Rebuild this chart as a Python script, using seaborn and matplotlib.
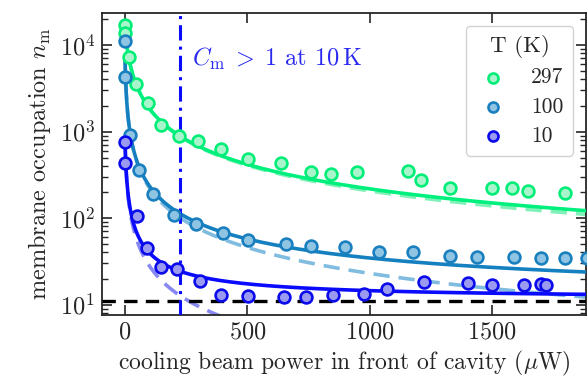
import numpy as np
import pandas as pd
import matplotlib
matplotlib.use("Agg")
import matplotlib.pyplot as plt
import seaborn as sns

# ---- measured membrane occupation vs. cooling power ----
temps = ["297", "100", "10"]

p_297 = [0, 0, 18, 45, 95, 147, 221, 297, 391, 504, 636, 759, 842, 950,
         1158, 1208, 1329, 1499, 1581, 1649, 1800]
n_297 = [17000, 13900, 7350, 3550, 2120, 1190, 900, 778, 624, 480, 437, 344,
         323, 344, 353, 273, 221, 225, 225, 206, 197]

p_100 = [0, 0, 20, 59, 116, 200, 290, 399, 504, 658, 759, 899, 1040, 1179,
         1329, 1440, 1590, 1701, 1800, 1888]
n_100 = [11000, 4310, 914, 360, 188, 109, 86, 68, 56, 50, 48, 46.6, 41, 40,
         36.5, 35.8, 35.3, 34.9, 34.9, 34.9]

p_10 = [0, 0, 50, 91, 146, 211, 307, 391, 504, 650, 740, 852, 978, 1070,
        1220, 1400, 1499, 1631, 1701, 1721]
n_10 = [764, 437, 106, 44.8, 27.4, 25.6, 18.9, 12.9, 12.7, 12.1, 12.3, 12.9,
        13.2, 15.0, 18.4, 17.6, 16.9, 16.9, 17.2, 16.9]

# ---- model: n = n0 / (1 + P/P0) (+ n_floor for the full model) ----
fit_n0 = [14820, 6970, 763]
fit_p0 = [14.1, 3.3, 3.8]
n_floor = 11.6
n_limit = 11.1          # horizontal reference level
p_cm = 225              # power where C_m > 1 at 10 K

edge_cols = ["#00ee78", "#1a7fbf", "#0a0aeb"]
face_cols = ["#a8f5cc", "#8fc4e3", "#9a9af0"]
line_cols = ["#00f07e", "#1580c0", "#0a0aff"]
dash_cols = ["#80f2b8", "#80bce0", "#8888f2"]

points = pd.concat([
    pd.DataFrame({"P": p, "n": n, "T": t})
    for p, n, t in zip([p_297, p_100, p_10], [n_297, n_100, n_10], temps)
], ignore_index=True)

xlim = (-94, 1885)
ylim = (7.64, 23700)

sns.set_style("ticks")
plt.rcParams.update({
    "font.family": "serif",
    "font.serif": ["cmr10", "DejaVu Serif"],
    "mathtext.fontset": "cm",
    "axes.formatter.use_mathtext": True,
    "font.size": 17.5,
    "axes.linewidth": 1.3,
})

fig = plt.figure(figsize=(5.88, 3.78), dpi=100)
ax = fig.add_axes([0.1735, 0.1675, 0.8235, 0.799])

p_grid = np.linspace(0, xlim[1], 2000)
curves = []
for t, n0, p0 in zip(temps, fit_n0, fit_p0):
    cool = n0 / (1 + p_grid / p0)
    curves.append(pd.DataFrame({"P": p_grid, "cool": cool,
                                "full": cool + n_floor, "T": t}))
curves = pd.concat(curves, ignore_index=True)

for i, t in enumerate(temps):
    c = curves[curves["T"] == t]
    sns.lineplot(data=c, x="P", y="cool", ax=ax, color=dash_cols[i],
                 lw=2.6, linestyle=(0, (4.5, 2.5)), zorder=2, legend=False)
for i, t in enumerate(temps):
    c = curves[curves["T"] == t]
    sns.lineplot(data=c, x="P", y="full", ax=ax, color=line_cols[i],
                 lw=2.6, zorder=3, legend=False)

ax.axhline(n_limit, color="black", lw=2.4, linestyle=(0, (4, 2.5)), zorder=4)
ax.axvline(p_cm, color="#0a0aff", lw=2.2, linestyle=(0, (5, 2, 1, 2)), zorder=4)

for i, t in enumerate(temps):
    d = points[points["T"] == t]
    sns.scatterplot(data=d, x="P", y="n", ax=ax, color=face_cols[i],
                    edgecolor=edge_cols[i], linewidth=1.9, s=72,
                    label=t, zorder=5)

ax.set_yscale("log")
ax.set_xlim(*xlim)
ax.set_ylim(*ylim)
ax.set_xticks([0, 500, 1000, 1500])
ax.tick_params(which="both", direction="in", top=True, right=True)
ax.tick_params(which="major", length=7, width=1.2, labelsize=17.5, pad=5)
ax.tick_params(which="minor", length=4, width=1.0)

ax.set_xlabel(r"cooling beam power in front of cavity ($\mu$W)",
              fontsize=17, labelpad=4)
ax.set_ylabel(r"membrane occupation $n_\mathrm{m}$", fontsize=17.5,
              labelpad=5)

ax.text(272, 7000, r"$C_\mathrm{m}\;>\;1$ at $10\,\mathrm{K}$",
        color="#2a2af0", fontsize=17.5, ha="left", va="center")

leg = ax.legend(title="T (K)", loc="upper right", frameon=True, fancybox=True,
                framealpha=0.85, edgecolor="#cccccc", fontsize=15.5,
                title_fontsize=16.5, handlelength=1.6, handletextpad=1.0,
                labelspacing=0.45, borderpad=0.45, borderaxespad=0.6,
                markerscale=0.85)

fig.savefig("out.png", dpi=100)
